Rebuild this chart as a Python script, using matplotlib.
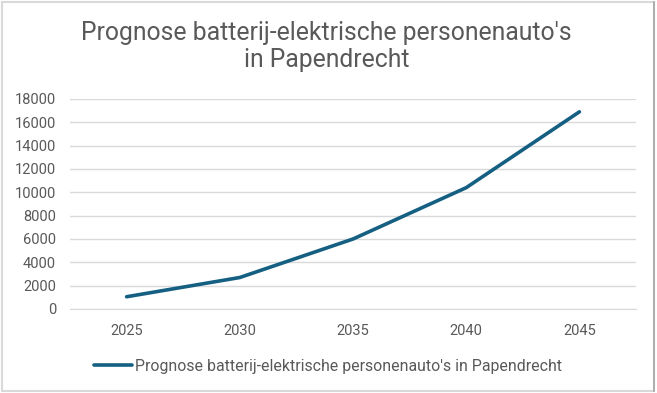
import matplotlib.pyplot as plt
from matplotlib.patches import Rectangle
from matplotlib.lines import Line2D

years = ['2025', '2030', '2035', '2040', '2045']
bev_count = [1050, 2700, 6000, 10400, 16900]
series_name = "Prognose batterij-elektrische personenauto's in Papendrecht"
title = "Prognose batterij-elektrische personenauto's\nin Papendrecht"
yticks = list(range(0, 18001, 2000))

plt.rcParams['font.family'] = ['Roboto', 'DejaVu Sans']
grey = '#595959'
line_col = '#156082'

W, H = 657, 393
fig = plt.figure(figsize=(W/100, H/100), dpi=100)
# chart frame (light grey, right edge slightly darker)
fig.patches.append(Rectangle((1.5/W, 2/H), 652.5/W, 389.5/H, transform=fig.transFigure,
                             fill=False, edgecolor='#d9d9d9', linewidth=1.5))
fig.lines.append(Line2D([654/W, 654/W], [2/H, 391.5/H], transform=fig.transFigure,
                        color='#a6a6a6', linewidth=1.2))
ax = fig.add_axes([70/W, 1 - 309/H, 566/W, 210/H])

x = range(len(years))
ax.plot(x, bev_count, color=line_col, linewidth=2.6, solid_capstyle='round',
        label=series_name)
ax.set_xlim(-0.5, len(years) - 0.5)
ax.set_ylim(0, 18000)
ax.set_yticks(yticks)
ax.set_yticklabels([str(v) for v in yticks])
ax.set_xticks(list(x))
ax.set_xticklabels(years)
ax.grid(axis='y', color='#d9d9d9', linewidth=1)
ax.set_axisbelow(True)
for s in ['top', 'right', 'left']:
    ax.spines[s].set_visible(False)
ax.spines['bottom'].set_color('#d9d9d9')
ax.tick_params(axis='both', length=0, colors=grey, labelsize=10.5)
ax.tick_params(axis='x', pad=11)
ax.tick_params(axis='y', pad=10)

fig.text(0.497, 1 - 40/H, title.split('\n')[0], ha='center', va='baseline',
         fontsize=17.8, color=grey)
fig.text(0.497, 1 - 67/H, title.split('\n')[1], ha='center', va='baseline',
         fontsize=17.8, color=grey)
fig.legend(loc='center', bbox_to_anchor=(328/W, 1 - 366/H), frameon=False,
           fontsize=11.4, labelcolor=grey, handlelength=2.4, handletextpad=0.15)

fig.savefig('out.png', dpi=100)
